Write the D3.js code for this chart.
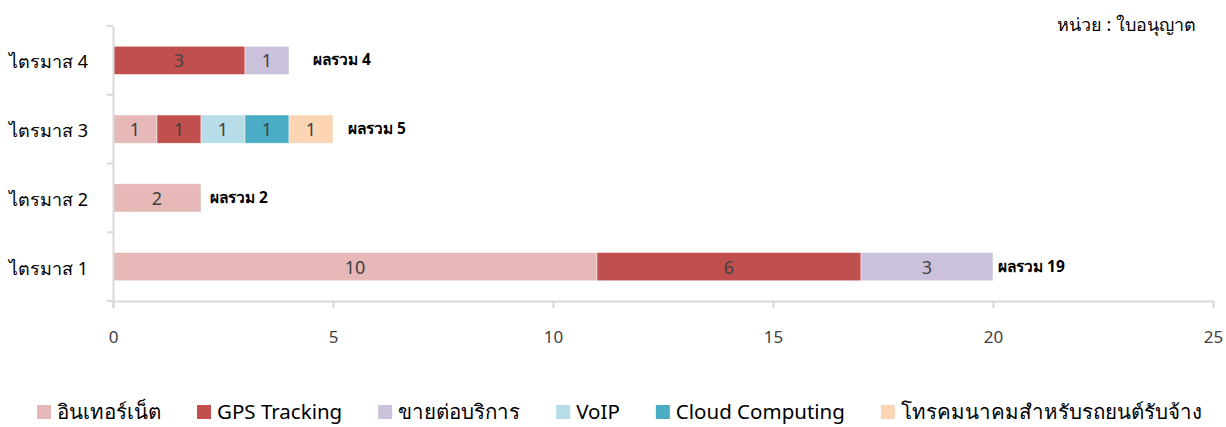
<!DOCTYPE html>
<html>
<head>
<meta charset="utf-8">
<script src="https://cdn.jsdelivr.net/npm/d3@7"></script>
<style>
  body { margin: 0; background: #fff; }
  text { font-family: "Noto Sans", "DejaVu Sans", sans-serif; }
</style>
</head>
<body>
<div id="chart"></div>
<script>

// quarters, top to bottom
var quarters = ["ไตรมาส 4", "ไตรมาส 3", "ไตรมาส 2", "ไตรมาส 1"];

var seriesNames = ["อินเทอร์เน็ต", "GPS Tracking", "ขายต่อบริการ", "VoIP", "Cloud Computing", "โทรคมนาคมสำหรับรถยนต์รับจ้าง"];
var seriesColors = ["#e6b9b8", "#c0504d", "#ccc1da", "#b7dee8", "#4bacc6", "#fcd5b5"];

// bar lengths as drawn (q4, q3, q2, q1)
var internet = [0, 1, 2, 11];
var gps      = [3, 1, 0, 6];
var resale   = [1, 0, 0, 3];
var voip     = [0, 1, 0, 0];
var cloud    = [0, 1, 0, 0];
var taxi     = [0, 1, 0, 0];

// labels as printed on the bars
var internetLabels = ["", "1", "2", "10"];
var totals = [4, 5, 2, 19];

var xTicks = [0, 5, 10, 15, 20, 25];

var W = 1226, H = 427;
var margin = {top: 26, right: 13, bottom: 126, left: 113},
    width = W - margin.left - margin.right,
    height = H - margin.top - margin.bottom;

var svg = d3.select("#chart")
  .append("svg")
    .attr("width", W)
    .attr("height", H)
    .style("display", "block");

var g = svg.append("g")
    .attr("transform", "translate(" + margin.left + "," + margin.top + ")");

var x = d3.scaleLinear()
  .domain([0, 25])
  .range([0, width]);

var y = d3.scaleBand()
  .domain(quarters)
  .range([0, height])
  .paddingInner(0.59)
  .paddingOuter(0.295);

var allSeries = [internet, gps, resale, voip, cloud, taxi];
var rows = quarters.map(function(q, i) {
  var r = {quarter: q};
  seriesNames.forEach(function(s, j) { r[s] = allSeries[j][i]; });
  return r;
});

var stacked = d3.stack().keys(seriesNames)(rows);

// bars
stacked.forEach(function(layer, j) {
  var lg = g.append("g").attr("fill", seriesColors[j]);
  layer.forEach(function(d, i) {
    if (d[1] - d[0] <= 0) return;
    lg.append("rect")
      .attr("x", x(d[0]))
      .attr("y", y(quarters[i]))
      .attr("width", x(d[1]) - x(d[0]))
      .attr("height", y.bandwidth())
      .attr("stroke", "#fff")
      .attr("stroke-opacity", 0.6)
      .attr("stroke-width", 0.75);
    var lab = j === 0 ? internetLabels[i] : String(d[1] - d[0]);
    lg.append("text")
      .attr("x", (x(d[0]) + x(d[1])) / 2)
      .attr("y", y(quarters[i]) + y.bandwidth() / 2 + 7)
      .attr("text-anchor", "middle")
      .attr("fill", "#404040")
      .style("font-size", "18px")
      .text(lab);
  });
});

// totals
var nudge = [24, 15, 9, 5];
var ends = stacked[stacked.length - 1];
quarters.forEach(function(q, i) {
  g.append("text")
    .attr("x", x(ends[i][1]) + nudge[i])
    .attr("y", y(q) + y.bandwidth() / 2 + 5)
    .attr("fill", "#000")
    .style("font-size", "15.5px")
    .style("font-weight", "bold")
    .text("ผลรวม " + totals[i]);
});

// axes
var xAxis = g.append("g")
  .attr("transform", "translate(0," + height + ")")
  .call(d3.axisBottom(x).tickValues(xTicks).tickSize(7).tickPadding(23));
xAxis.select(".domain").attr("stroke", "#d9d9d9").attr("stroke-width", 2);
xAxis.selectAll(".tick line").attr("stroke", "#d9d9d9").attr("stroke-width", 2);
xAxis.selectAll(".tick text").attr("fill", "#404040").style("font-size", "17px");

var yAxis = g.append("g")
  .call(d3.axisLeft(y).tickSize(0).tickPadding(25));
yAxis.select(".domain").attr("stroke", "#d9d9d9").attr("stroke-width", 2);
yAxis.selectAll(".tick text").attr("fill", "#000").attr("dy", "0.45em").style("font-size", "18px");

// category separators on the y axis
var seps = quarters.map(function(q) { return y(q) - y.step() * y.paddingInner() / 2; }).concat([height]);
g.selectAll(".sep")
  .data(seps)
  .enter().append("line")
    .attr("x1", -6).attr("x2", 0)
    .attr("y1", function(d) { return d; })
    .attr("y2", function(d) { return d; })
    .attr("stroke", "#d9d9d9")
    .attr("stroke-width", 2);

// unit
svg.append("text")
  .attr("x", 1196)
  .attr("y", 31)
  .attr("text-anchor", "end")
  .attr("fill", "#000")
  .style("font-size", "18px")
  .text("หน่วย : ใบอนุญาต");

// legend
var legend = svg.append("g").attr("transform", "translate(37,0)");
var lx = 0;
seriesNames.forEach(function(s, j) {
  var item = legend.append("g").attr("transform", "translate(" + lx + ",0)");
  item.append("rect")
    .attr("x", 0).attr("y", 405)
    .attr("width", 14).attr("height", 14)
    .attr("fill", seriesColors[j]);
  var t = item.append("text")
    .attr("x", 20)
    .attr("y", 419)
    .attr("fill", "#000")
    .style("font-size", "20.5px")
    .text(s);
  lx += 20 + t.node().getComputedTextLength() + 36;
});

</script>
</body>
</html>
